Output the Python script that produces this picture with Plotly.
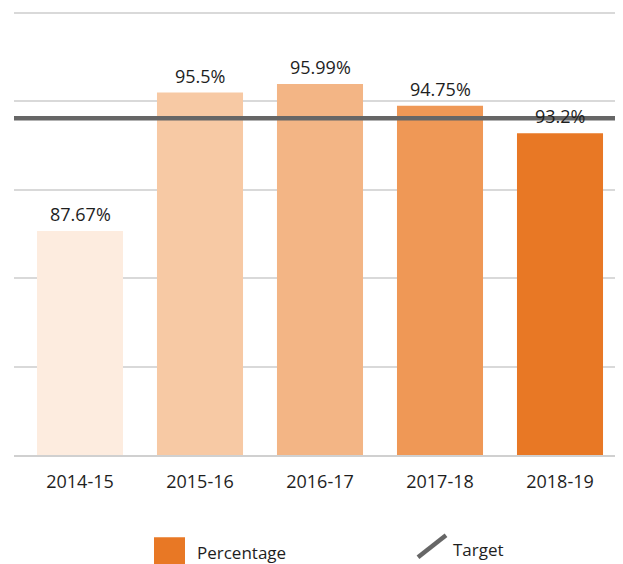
import plotly.graph_objects as go

categories = ["2014-15", "2015-16", "2016-17", "2017-18", "2018-19"]
percentage = [87.67, 95.5, 95.99, 94.75, 93.2]
labels = ["87.67%", "95.5%", "95.99%", "94.75%", "93.2%"]
target = 94.05
axis_min = 75
bar_colors = ["#fdecdf", "#f7c9a4", "#f3b585", "#ef9856", "#e87825"]

FONT = "Open Sans, Noto Sans, sans-serif"

fig = go.Figure()
fig.add_trace(go.Bar(
    x=categories, y=[v - axis_min for v in percentage], base=axis_min, width=0.717,
    marker=dict(color=bar_colors, line=dict(width=0)),
    name="Percentage", showlegend=False, hoverinfo="skip",
))

fig.add_hline(y=target, line=dict(color="#666666", width=4.5), layer="above")

for c, v, t in zip(categories, percentage, labels):
    fig.add_annotation(x=c, y=v, text=t, showarrow=False, yanchor="bottom",
                       yshift=3, font=dict(family=FONT, size=18, color="#1e1e1e"))

# custom legend (paper coords relative to plot area)
fig.add_shape(type="rect", xref="paper", yref="paper",
              x0=(154-14)/609, x1=(185-14)/609, y0=-(537-455)/442, y1=-(570-455)/442,
              fillcolor="#e87825", line=dict(width=0))
fig.add_annotation(xref="paper", yref="paper", x=(195-14)/609, y=-(552-455)/442,
                   text="Percentage", showarrow=False, xanchor="left", yanchor="middle",
                   font=dict(family=FONT, size=17, color="#1e1e1e"))
fig.add_shape(type="line", xref="paper", yref="paper",
              x0=(418-14)/609, x1=(446-14)/609, y0=-(557-455)/442, y1=-(535-455)/442,
              line=dict(color="#666666", width=4.5))
fig.add_annotation(xref="paper", yref="paper", x=(451-14)/609, y=-(549-455)/442,
                   text="Target", showarrow=False, xanchor="left", yanchor="middle",
                   font=dict(family=FONT, size=17, color="#1e1e1e"))

fig.update_layout(
    width=615, height=556,
    margin=dict(l=6, r=0, t=4, b=109),
    paper_bgcolor="white", plot_bgcolor="white",
    showlegend=False,
    font=dict(family=FONT, size=16, color="#1e1e1e"),
    xaxis=dict(range=[-0.55, 4.525], showgrid=False, showline=True,
               linecolor="#d0d0d0", linewidth=1.5, ticks="",
               tickfont=dict(family=FONT, size=18, color="#1e1e1e"),
               ticklabelstandoff=10, fixedrange=True),
    yaxis=dict(range=[75, 100.06], tickvals=[75, 80, 85, 90, 95, 100], showticklabels=False,
               showgrid=True, gridcolor="#d9d9d9", gridwidth=1.5,
               zeroline=False, showline=False, fixedrange=True),
)

fig.write_html("out.html")
